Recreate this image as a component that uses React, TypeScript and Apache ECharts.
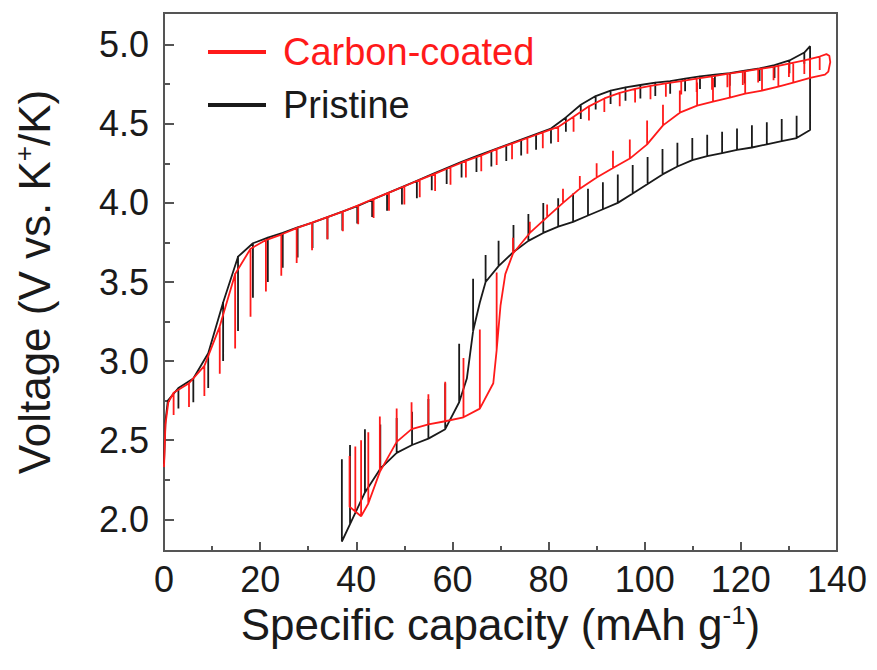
import React, { useEffect, useRef } from "react";
import * as echarts from "echarts";

// ---- axis ticks ----
const xMin = 0;
const xMax = 140;
const xInterval = 20;
const yMin = 1.8;
const yMax = 5.2;
const yMajorTicks = [2.0, 2.5, 3.0, 3.5, 4.0, 4.5, 5.0];
const yMinorTicks = [2.25, 2.75, 3.25, 3.75, 4.25, 4.75];

// ---- data: [capacity (mAh/g), closed-circuit voltage, relaxed voltage | null] ----
const pristineCharge: [number, number, number | null][] = [
  [0, 2.35, null], [0.3, 2.62, null], [0.8, 2.75, null],
  [3.0, 2.83, 2.7], [6.1, 2.89, 2.74], [9.2, 3.05, 2.83], [12.3, 3.37, 3.0],
  [15.4, 3.66, 3.19], [18.5, 3.745, 3.4], [21.6, 3.78, 3.5], [24.7, 3.81, 3.59],
  [27.8, 3.845, 3.655], [30.9, 3.875, 3.715], [34.0, 3.91, 3.77], [37.1, 3.945, 3.825],
  [40.2, 3.98, 3.87], [43.3, 4.02, 3.91], [46.4, 4.06, 3.95], [49.5, 4.1, 3.99],
  [52.6, 4.14, 4.03], [55.7, 4.18, 4.08], [58.8, 4.22, 4.12], [61.9, 4.26, 4.16],
  [65.0, 4.295, 4.195], [68.1, 4.33, 4.23], [71.2, 4.365, 4.265], [74.3, 4.4, 4.3],
  [77.4, 4.435, 4.335], [80.5, 4.47, 4.375], [83.6, 4.54, 4.45], [86.7, 4.62, 4.53],
  [89.8, 4.675, 4.59], [92.9, 4.71, 4.625], [96.0, 4.73, 4.645], [99.1, 4.745, 4.66],
  [102.2, 4.76, 4.675], [105.3, 4.77, 4.69], [108.4, 4.785, 4.705], [111.5, 4.8, 4.72],
  [114.6, 4.81, 4.73], [117.7, 4.82, 4.74], [120.8, 4.835, 4.755], [123.9, 4.85, 4.77],
  [127.0, 4.87, 4.79], [130.1, 4.9, 4.82], [133.2, 4.95, 4.88], [134.4, 4.99, null],
];

const pristineDischarge: [number, number, number | null][] = [
  [134.4, 4.46, null], [131.6, 4.41, 4.55], [128.5, 4.39, 4.53], [125.4, 4.37, 4.51],
  [122.3, 4.35, 4.49], [119.2, 4.335, 4.47], [116.1, 4.315, 4.45], [113.0, 4.295, 4.43],
  [109.9, 4.27, 4.41], [106.8, 4.23, 4.38], [103.7, 4.18, 4.34], [100.6, 4.12, 4.29],
  [97.5, 4.06, 4.24], [94.4, 4.0, 4.18], [91.3, 3.96, 4.13], [88.2, 3.92, 4.09],
  [85.1, 3.88, 4.06], [82.0, 3.85, 4.03], [78.9, 3.81, 4.0], [75.8, 3.76, 3.93],
  [72.7, 3.69, 3.86], [69.6, 3.6, 3.76], [66.9, 3.5, 3.67], [65.7, 3.37, null],
  [64.3, 3.19, 3.52], [63.0, 2.89, null], [61.4, 2.74, 3.11], [58.5, 2.57, 2.86],
  [55.0, 2.51, 2.76], [51.6, 2.47, 2.68], [48.4, 2.42, 2.64], [45.0, 2.32, 2.6],
  [41.8, 2.17, 2.57], [38.7, 1.97, 2.47], [37.0, 1.86, 2.38],
];

const coatedCharge: [number, number, number | null][] = [
  [0, 2.33, null], [0.3, 2.6, null], [0.9, 2.74, null],
  [2.0, 2.8, 2.66], [5.2, 2.86, 2.71], [8.4, 2.97, 2.78], [11.6, 3.22, 2.92],
  [14.8, 3.55, 3.08], [18.0, 3.71, 3.28], [21.2, 3.765, 3.44], [24.4, 3.8, 3.54],
  [27.6, 3.84, 3.62], [30.8, 3.875, 3.7], [34.0, 3.91, 3.77], [37.2, 3.945, 3.82],
  [40.4, 3.985, 3.865], [43.6, 4.025, 3.905], [46.8, 4.065, 3.95], [50.0, 4.105, 3.99],
  [53.2, 4.145, 4.035], [56.4, 4.185, 4.075], [59.6, 4.225, 4.115], [62.8, 4.265, 4.16],
  [66.0, 4.3, 4.2], [69.2, 4.34, 4.24], [72.4, 4.375, 4.275], [75.6, 4.41, 4.31],
  [78.8, 4.445, 4.345], [82.0, 4.48, 4.385], [85.2, 4.545, 4.45], [88.4, 4.61, 4.52],
  [91.6, 4.66, 4.575], [94.8, 4.695, 4.61], [98.0, 4.72, 4.635], [101.2, 4.74, 4.655],
  [104.4, 4.755, 4.67], [107.6, 4.77, 4.685], [110.8, 4.785, 4.7], [114.0, 4.8, 4.715],
  [117.2, 4.815, 4.73], [120.4, 4.83, 4.745], [123.6, 4.845, 4.76], [126.8, 4.86, 4.775],
  [130.0, 4.88, 4.795], [133.2, 4.9, 4.815], [136.4, 4.925, 4.84], [137.8, 4.94, null],
  [138.4, 4.93, null], [138.6, 4.89, null], [138.2, 4.83, null],
];

const coatedDischarge: [number, number, number | null][] = [
  [137.5, 4.81, null], [134.4, 4.79, 4.91], [130.9, 4.76, 4.89], [127.8, 4.735, 4.87],
  [124.4, 4.71, 4.85], [120.9, 4.69, 4.83], [117.7, 4.665, 4.81], [114.2, 4.64, 4.79],
  [110.9, 4.615, 4.76], [107.3, 4.57, 4.71], [103.8, 4.49, 4.62], [100.5, 4.37, 4.52],
  [96.9, 4.28, 4.4], [93.4, 4.22, 4.33], [90.0, 4.16, 4.25], [86.5, 4.09, 4.17],
  [83.0, 4.0, 4.09], [79.7, 3.91, 3.99], [76.1, 3.81, 3.88], [72.6, 3.68, 3.78],
  [71.0, 3.55, null], [70.0, 3.35, null], [69.2, 3.07, 3.56], [68.5, 2.86, null],
  [65.7, 2.7, 3.2], [62.3, 2.645, 3.02], [58.5, 2.62, 2.87], [55.0, 2.6, 2.79],
  [51.5, 2.57, 2.74], [48.4, 2.49, 2.7], [44.9, 2.3, 2.65], [42.5, 2.1, 2.55],
  [41.0, 2.02, 2.5], [39.8, 2.05, 2.46], [38.6, 2.08, 2.4],
];

const FONT = "'Liberation Sans', Arial, Helvetica, sans-serif";

function buildPath(...segments: [number, number, number | null][][]) {
  const pts: number[][] = [];
  for (const seg of segments) {
    for (const [c, v, r] of seg) {
      pts.push([c, v]);
      if (r !== null) {
        pts.push([c, r]);
        pts.push([c, v]);
      }
    }
  }
  return pts;
}

export default function App() {
  const ref = useRef<HTMLDivElement>(null);
  useEffect(() => {
    if (!ref.current) return;
    const chart = echarts.init(ref.current, undefined, { renderer: "svg" });
    const axisColor = "#555";
    const supRich = { sup: { fontSize: 26, padding: [0, 0, 20, 0], fontFamily: FONT, color: "#1a1a1a" } };
    chart.setOption({
      animation: false,
      backgroundColor: "#fff",
      grid: {
        left: 164, right: 40, top: 13, bottom: 119,
        show: true, borderColor: axisColor, borderWidth: 2, backgroundColor: "transparent",
      },
      legend: {
        orient: "vertical",
        left: 203,
        top: 28,
        itemWidth: 58,
        itemHeight: 4,
        itemGap: 15,
        icon: "rect",
        textStyle: { fontSize: 38, fontFamily: FONT, padding: [0, 0, 0, 12] },
        data: [
          { name: "Carbon-coated", textStyle: { color: "#ff1a1a" } },
          { name: "Pristine", textStyle: { color: "#1a1a1a" } },
        ],
      },
      xAxis: {
        type: "value",
        min: xMin,
        max: xMax,
        interval: xInterval,
        axisLine: { lineStyle: { color: axisColor, width: 2 } },
        axisTick: { inside: true, length: 9, lineStyle: { color: axisColor, width: 2 } },
        minorTick: { show: true, splitNumber: 2, length: 5, lineStyle: { color: axisColor, width: 2 } },
        splitLine: { show: false },
        axisLabel: { fontSize: 36, color: "#1a1a1a", margin: 10, fontFamily: FONT },
        name: "Specific capacity (mAh g{sup|-1})",
        nameLocation: "middle",
        nameGap: 45,
        nameTextStyle: { fontSize: 44, color: "#1a1a1a", fontFamily: FONT, rich: supRich },
      },
      yAxis: [
        {
          type: "value",
          min: yMin,
          max: yMax,
          axisLine: { lineStyle: { color: axisColor, width: 2 } },
          axisTick: { customValues: yMajorTicks, inside: true, length: 10, lineStyle: { color: axisColor, width: 2 } },
          axisLabel: {
            customValues: yMajorTicks,
            formatter: (v: number) => v.toFixed(1),
            fontSize: 36, color: "#1a1a1a", margin: 15, fontFamily: FONT,
          },
          splitLine: { show: false },
          name: "Voltage (V vs. K{sup|+}/K)",
          nameLocation: "middle",
          nameGap: 107,
          nameTextStyle: { fontSize: 44, color: "#1a1a1a", fontFamily: FONT, rich: supRich },
        },
        {
          type: "value",
          min: yMin,
          max: yMax,
          position: "left",
          axisLine: { show: false },
          axisTick: { customValues: yMinorTicks, inside: true, length: 6, lineStyle: { color: axisColor, width: 2 } },
          axisLabel: { show: false },
          splitLine: { show: false },
        },
      ],
      series: [
        {
          name: "Pristine",
          type: "line",
          yAxisIndex: 0,
          data: buildPath(pristineCharge, pristineDischarge),
          showSymbol: false,
          symbol: "none",
          color: "#1a1a1a",
          lineStyle: { color: "#1a1a1a", width: 1.8 },
        },
        {
          name: "Carbon-coated",
          type: "line",
          yAxisIndex: 0,
          data: buildPath(coatedCharge, coatedDischarge),
          showSymbol: false,
          symbol: "none",
          color: "#ff1a1a",
          lineStyle: { color: "#ff1a1a", width: 1.8 },
        },
      ],
    });
    return () => chart.dispose();
  }, []);
  return <div ref={ref} style={{ width: 877, height: 670, margin: -8 }} />;
}
